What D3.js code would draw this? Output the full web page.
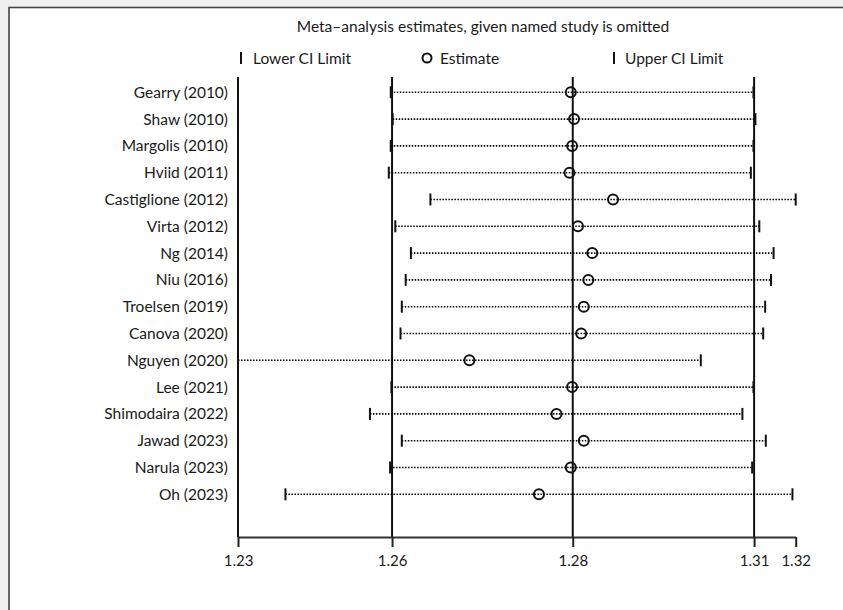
<!DOCTYPE html>
<html><head><meta charset="utf-8">
<script src="https://cdn.jsdelivr.net/npm/d3@7"></script>
<style>
html,body{margin:0;padding:0;background:#f0f0f0;}
svg{display:block;}
text{font-family:Lato,"Noto Sans",sans-serif;fill:#1a1a1a;}
</style></head>
<body>
<svg id="chart" width="843" height="610"></svg>
<script>
const studies = ["Gearry (2010)","Shaw (2010)","Margolis (2010)","Hviid (2011)","Castiglione (2012)","Virta (2012)","Ng (2014)","Niu (2016)","Troelsen (2019)","Canova (2020)","Nguyen  (2020)","Lee (2021)","Shimodaira (2022)","Jawad (2023)","Narula (2023)","Oh (2023)"];
const lowerCI   = [1.2555,1.2558,1.2555,1.2552,1.2616,1.2562,1.2586,1.2578,1.2572,1.2570,1.2320,1.2556,1.2523,1.2572,1.2554,1.2393];
const estimates = [1.2832,1.2837,1.2834,1.2830,1.2897,1.2843,1.2865,1.2859,1.2852,1.2848,1.2676,1.2834,1.2810,1.2852,1.2832,1.2783];
const upperCI   = [1.3113,1.3116,1.3113,1.3109,1.3178,1.3122,1.3144,1.3140,1.3131,1.3128,1.3032,1.3113,1.3096,1.3132,1.3111,1.3173];
const overall   = [1.2557,1.2835,1.3114]; // combined lower CI, estimate, upper CI
const tickValues = [1.2320,1.2557,1.2835,1.3114,1.3178];
const tickLabels = ["1.23","1.26","1.28","1.31","1.32"];
const titleText = "Meta\u2013analysis estimates, given named study is omitted";
const legendLabels = ["Lower CI Limit","Estimate","Upper CI Limit"];

const svg = d3.select("#chart");
// white panel with border
svg.append("rect").attr("x",9).attr("y",7.5).attr("width",900).attr("height",700)
  .attr("fill","#fff").attr("stroke","#444").attr("stroke-width",1.6);

const x = d3.scaleLinear().domain([d3.min(lowerCI), d3.max(upperCI)]).range([238, 795.7]);
const y = d3.scaleBand().domain(studies).range([78.9, 507.7]);
const yc = s => y(s) + y.bandwidth()/2;
const plotTop = 77, axisY = 537;

// title
svg.append("text").attr("x",483).attr("y",32).attr("text-anchor","middle")
  .attr("font-size",15.5).text(titleText);

// legend
const lg = svg.append("g");
lg.append("line").attr("x1",241).attr("x2",241).attr("y1",52).attr("y2",64).attr("stroke","#111").attr("stroke-width",2);
lg.append("text").attr("x",253).attr("y",63.5).attr("font-size",15.5).text(legendLabels[0]);
lg.append("circle").attr("cx",427).attr("cy",58).attr("r",4.5).attr("fill","none").attr("stroke","#111").attr("stroke-width",2);
lg.append("text").attr("x",440).attr("y",63.5).attr("font-size",15.5).text(legendLabels[1]);
lg.append("line").attr("x1",614).attr("x2",614).attr("y1",52).attr("y2",64).attr("stroke","#111").attr("stroke-width",2);
lg.append("text").attr("x",625).attr("y",63.5).attr("font-size",15.5).text(legendLabels[2]);

// vertical reference lines (left axis + overall CI/estimate)
svg.append("line").attr("x1",x(d3.min(lowerCI))).attr("x2",x(d3.min(lowerCI)))
  .attr("y1",plotTop).attr("y2",axisY).attr("stroke","#111").attr("stroke-width",2);
svg.selectAll("line.ref").data(overall).join("line").attr("class","ref")
  .attr("x1",d=>x(d)).attr("x2",d=>x(d)).attr("y1",plotTop).attr("y2",axisY)
  .attr("stroke","#111").attr("stroke-width",2);

// x axis
const axis = d3.axisBottom(x).tickValues(tickValues).tickFormat((d,i)=>tickLabels[i]).tickSize(10).tickSizeOuter(0);
const ax = svg.append("g").attr("transform",`translate(0,${axisY})`).call(axis);
ax.select(".domain").attr("stroke","#333").attr("stroke-width",2.2);
ax.selectAll(".tick line").attr("stroke","#222").attr("stroke-width",2);
ax.selectAll(".tick text").attr("font-size",15).attr("font-family","Lato, sans-serif").attr("fill","#1a1a1a").attr("dy","1.05em");

// rows
const rows = svg.append("g").selectAll("g").data(studies).join("g")
  .attr("transform",d=>`translate(0,${yc(d)})`);
rows.append("text").attr("x",228).attr("y",0).attr("dy","0.35em").attr("text-anchor","end")
  .attr("font-size",15.5).text(d=>d);
rows.append("line").attr("x1",(d,i)=>x(lowerCI[i])).attr("x2",(d,i)=>x(upperCI[i]))
  .attr("stroke","#000").attr("stroke-width",1.6).attr("stroke-dasharray","1.5,1.5");
rows.append("line").attr("x1",(d,i)=>x(lowerCI[i])).attr("x2",(d,i)=>x(lowerCI[i]))
  .attr("y1",-6).attr("y2",6).attr("stroke","#111").attr("stroke-width",2);
rows.append("line").attr("x1",(d,i)=>x(upperCI[i])).attr("x2",(d,i)=>x(upperCI[i]))
  .attr("y1",-6).attr("y2",6).attr("stroke","#111").attr("stroke-width",2);
rows.append("circle").attr("cx",(d,i)=>x(estimates[i])).attr("cy",0).attr("r",5)
  .attr("fill","none").attr("stroke","#111").attr("stroke-width",2);
</script>
</body></html>
